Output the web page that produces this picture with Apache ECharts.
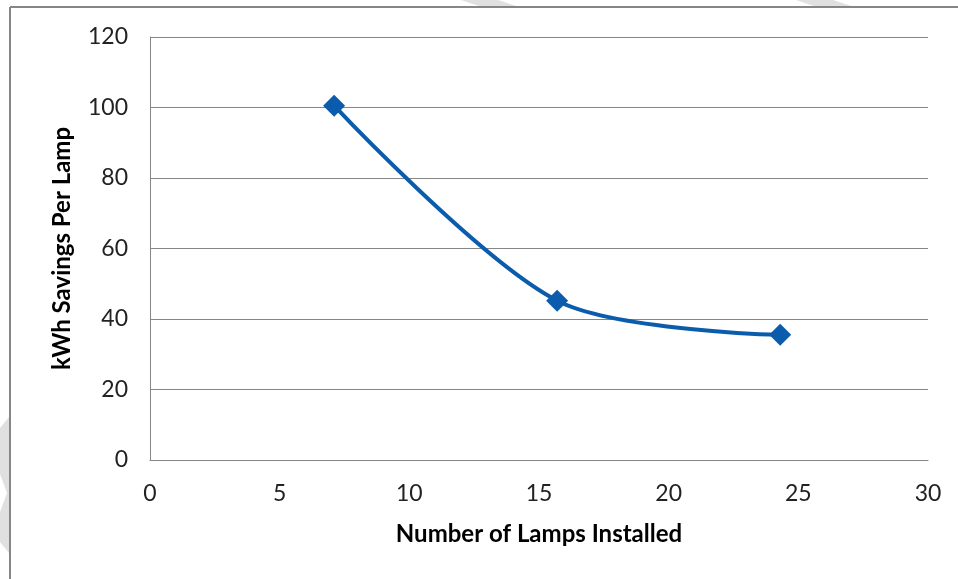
<!DOCTYPE html>
<html>
<head>
<meta charset="utf-8">
<script src="https://cdn.jsdelivr.net/npm/echarts@6/dist/echarts.min.js"></script>
<style>
  html, body { margin: 0; padding: 0; background: #fff; }
  #main { width: 958px; height: 579px; }
</style>
</head>
<body>
<div id="main"></div>
<script>
// lamps installed (x) vs savings per lamp (y)
const lampsInstalled = [7.1, 15.7, 24.3];
const kwhPerLamp = [100.5, 45.2, 35.5];
const xTicks = [0, 5, 10, 15, 20, 25, 30];
const yTicks = [0, 20, 40, 60, 80, 100, 120];

const points = lampsInstalled.map((x, i) => [x, kwhPerLamp[i]]);
const grey = '#868686';
const wm = '#e0e0e0'; // faint watermark bits

let chart = echarts.init(document.getElementById('main'));
chart.setOption({
  animation: false,
  backgroundColor: '#fff',
  textStyle: { fontFamily: 'Lato, "Open Sans", sans-serif' },
  grid: { left: 150, right: 30, top: 37, bottom: 119 },
  graphic: [
    { type: 'polygon', silent: true, z: -1, shape: { points: [[461, 0], [498, 0], [516, 6], [479, 6]] }, style: { fill: wm } },
    { type: 'polygon', silent: true, z: -1, shape: { points: [[796, 0], [833, 0], [851, 6], [814, 6]] }, style: { fill: wm } },
    { type: 'polygon', silent: true, z: -1, shape: { points: [[9, 417], [9, 553], [0, 542], [0, 512], [7, 493], [0, 474], [0, 428]] }, style: { fill: wm } },
    // outer frame: top and left edges only visible
    { type: 'line', silent: true, shape: { x1: 10, y1: 7, x2: 958, y2: 7 }, style: { stroke: grey, lineWidth: 2 } },
    { type: 'line', silent: true, shape: { x1: 10, y1: 7, x2: 10, y2: 579 }, style: { stroke: grey, lineWidth: 2 } }
  ],
  xAxis: {
    type: 'value',
    min: xTicks[0],
    max: xTicks[xTicks.length - 1],
    interval: 5,
    name: 'Number of Lamps Installed',
    nameLocation: 'middle',
    nameGap: 62,
    nameTextStyle: { fontSize: 24, fontWeight: 'bold', color: '#000' },
    axisLine: { show: true, lineStyle: { color: grey, width: 1 } },
    axisTick: { show: false },
    axisLabel: { fontSize: 23, color: '#222', margin: 22 },
    splitLine: { show: false }
  },
  yAxis: {
    type: 'value',
    min: yTicks[0],
    max: yTicks[yTicks.length - 1],
    interval: 20,
    name: 'kWh Savings Per Lamp',
    nameLocation: 'middle',
    nameGap: 76,
    nameTextStyle: { fontSize: 24, fontWeight: 'bold', color: '#000' },
    axisLine: { show: true, lineStyle: { color: grey, width: 1 } },
    axisTick: { show: false },
    axisLabel: { fontSize: 23, color: '#222', margin: 22 },
    splitLine: { show: true, lineStyle: { color: grey, width: 1 } }
  },
  series: [{
    type: 'line',
    data: points,
    smooth: 0.3,
    symbol: 'diamond',
    symbolSize: 22,
    itemStyle: { color: '#0B5CAD' },
    lineStyle: { color: '#0B5CAD', width: 4 }
  }]
});
</script>
</body>
</html>
